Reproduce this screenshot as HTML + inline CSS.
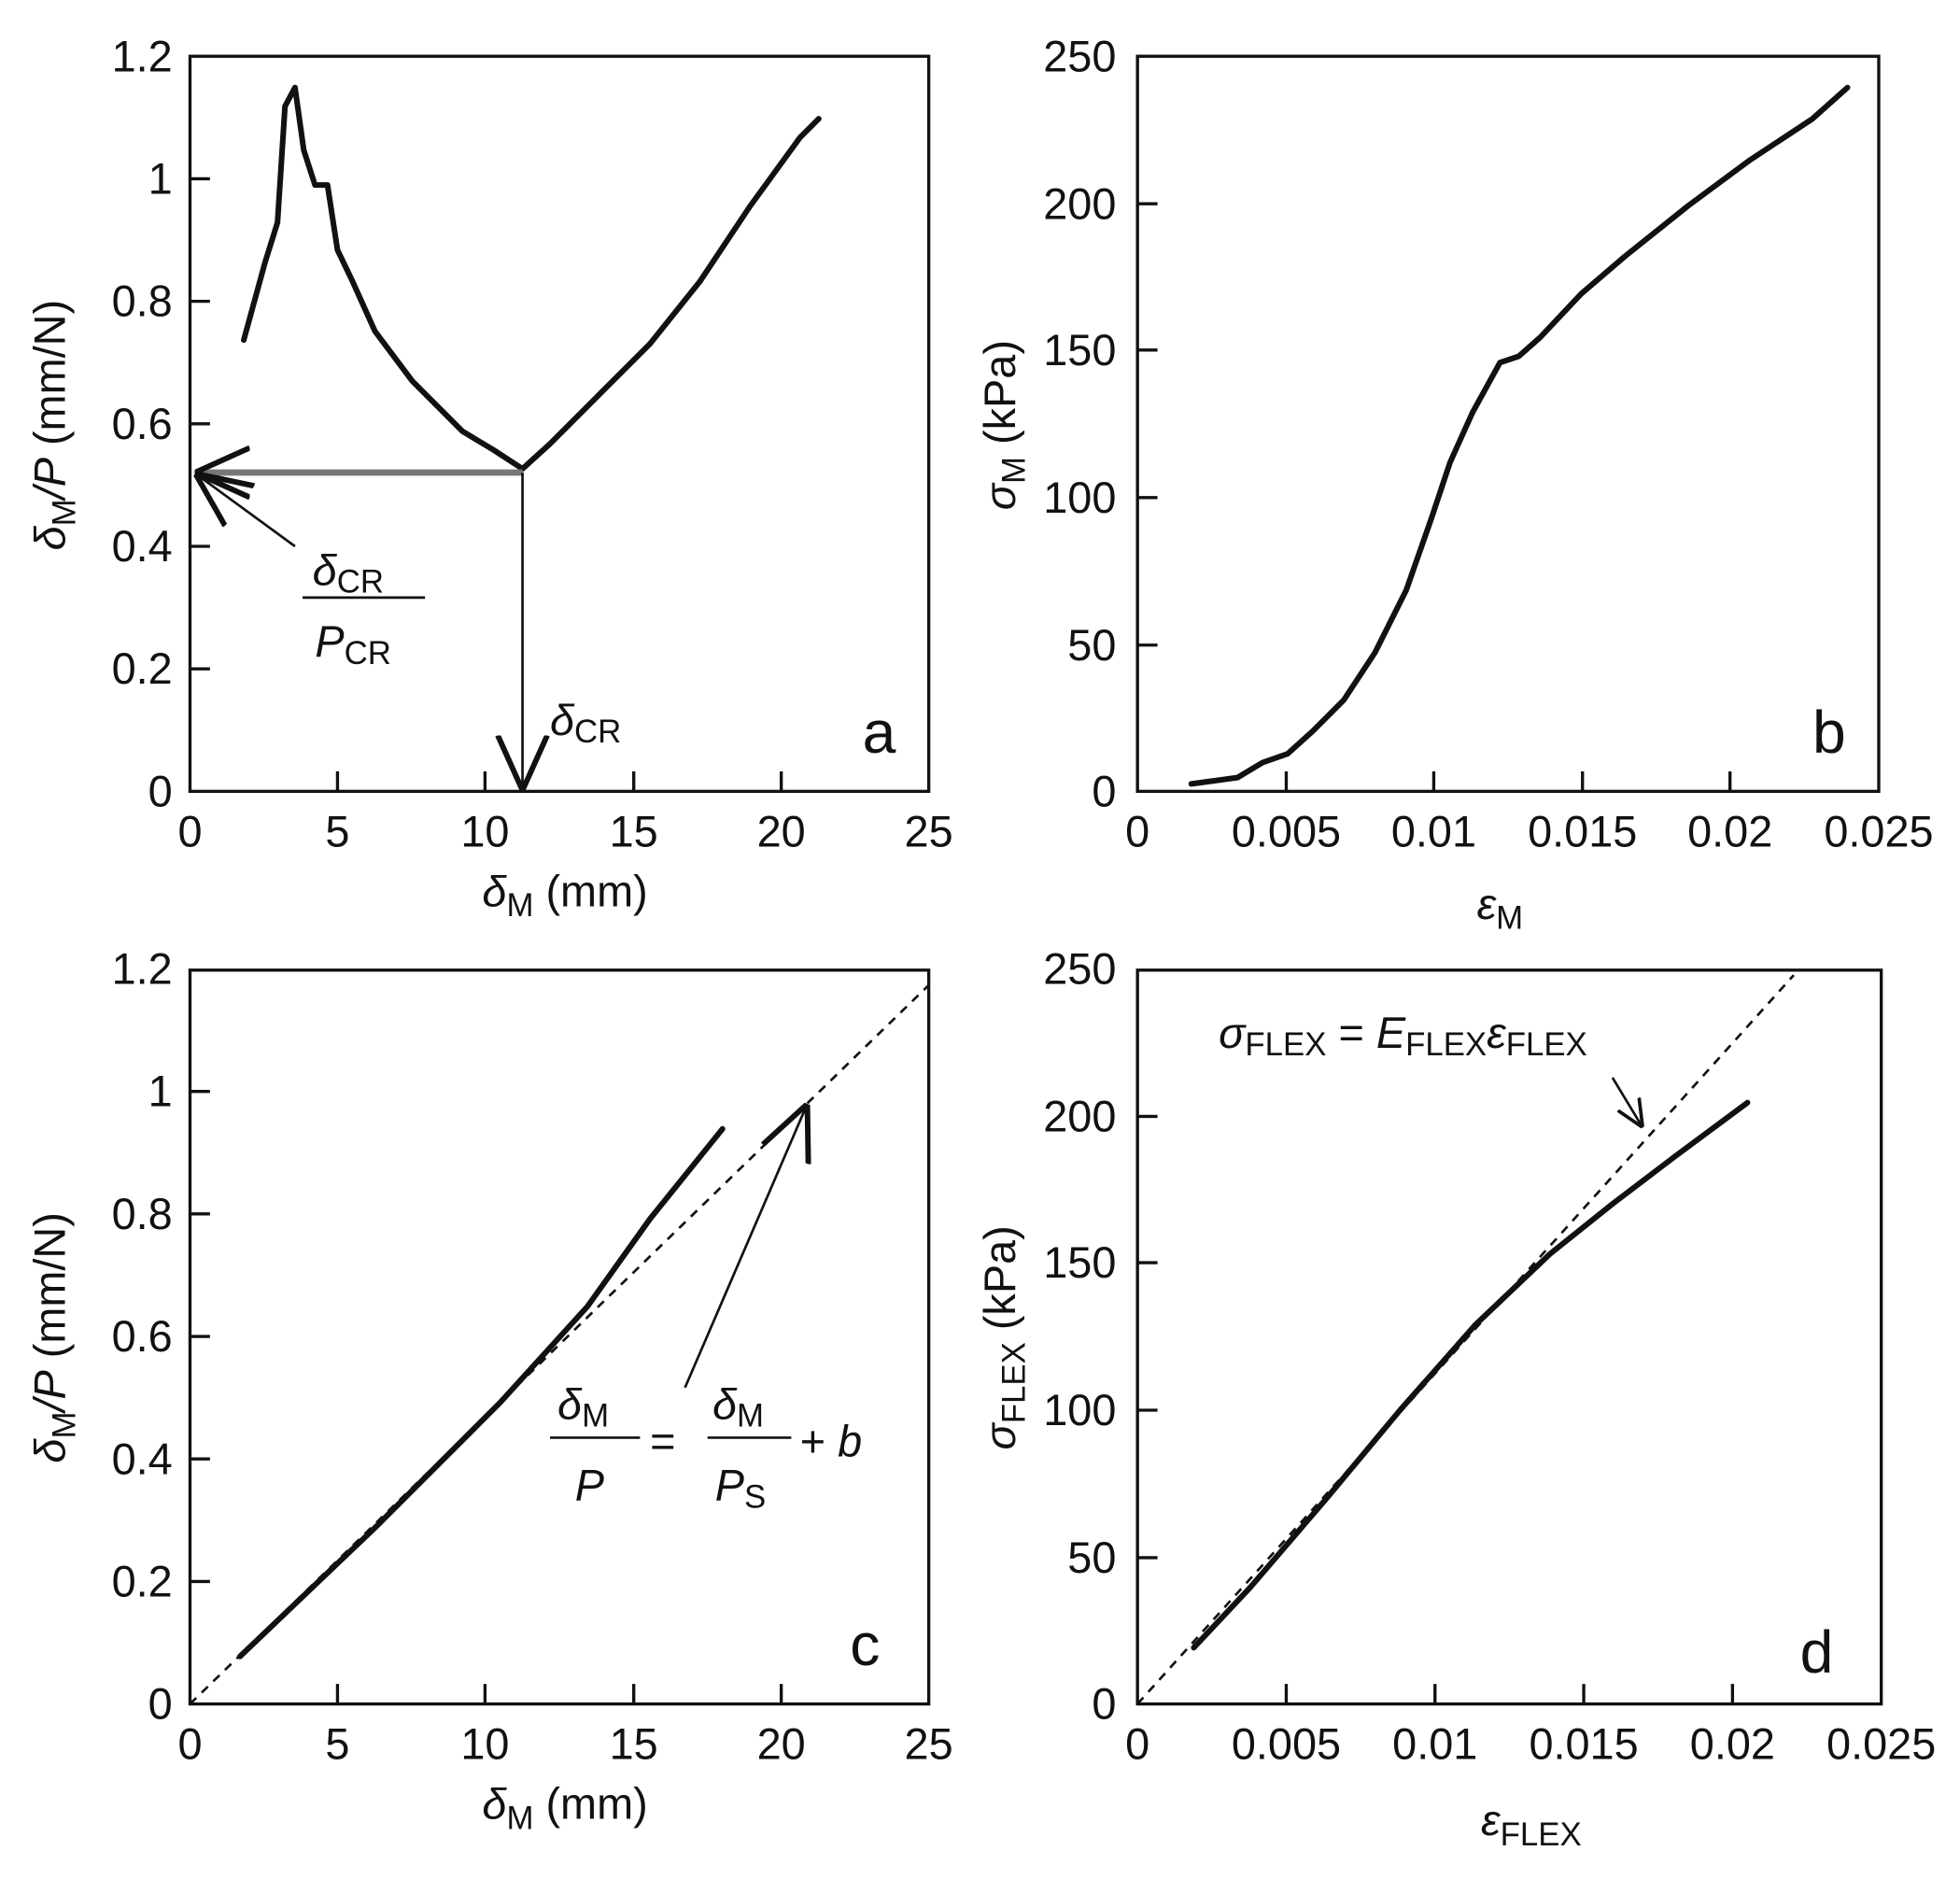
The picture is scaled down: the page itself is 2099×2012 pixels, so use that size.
<!DOCTYPE html>
<html><head><meta charset="utf-8"><style>html,body{margin:0;padding:0;background:#fff}svg{display:block}text{font-family:"Liberation Sans",sans-serif;fill:#111}</style></head>
<body>
<svg width="2099" height="2012" viewBox="0 0 1568 1503" xmlns="http://www.w3.org/2000/svg">
<defs><marker id="ah" viewBox="0 0 20 20" refX="18" refY="10" markerWidth="22" markerHeight="22" markerUnits="userSpaceOnUse" orient="auto"><path d="M0,1 L20,10 L0,19" fill="none" stroke="#111" stroke-width="2.5"/></marker>
<marker id="ahb" viewBox="0 0 20 20" refX="19" refY="10" markerWidth="44" markerHeight="44" markerUnits="userSpaceOnUse" orient="auto"><path d="M0,1 L20,10 L0,19" fill="none" stroke="#111" stroke-width="2"/></marker></defs>
<g fill="none" stroke="#111" stroke-width="2.5">
<rect x="152" y="45" width="591" height="588"/>
<rect x="910" y="45" width="593" height="588"/>
<rect x="152" y="776" width="591" height="587"/>
<rect x="910" y="776" width="595" height="587"/>
<path d="M152,535h16M152,437h16M152,339h16M152,241h16M152,143h16M270,633v-16M388,633v-16M507,633v-16M625,633v-16"/>
<path d="M910,516h16M910,398h16M910,280h16M910,163h16M1029,633v-16M1147,633v-16M1266,633v-16M1384,633v-16"/>
<path d="M152,1265h16M152,1167h16M152,1069h16M152,971h16M152,873h16M270,1363v-16M388,1363v-16M507,1363v-16M625,1363v-16"/>
<path d="M910,1246h16M910,1128h16M910,1010h16M910,893h16M1029,1363v-16M1148,1363v-16M1267,1363v-16M1386,1363v-16"/>
</g>
<g font-size="35" text-anchor="end">
<text x="138" y="645">0</text><text x="138" y="547">0.2</text><text x="138" y="449">0.4</text><text x="138" y="351">0.6</text><text x="138" y="253">0.8</text><text x="138" y="155">1</text><text x="138" y="57">1.2</text>
<text x="893" y="645">0</text><text x="893" y="528">50</text><text x="893" y="410">100</text><text x="893" y="292">150</text><text x="893" y="175">200</text><text x="893" y="57">250</text>
<text x="138" y="1375">0</text><text x="138" y="1277">0.2</text><text x="138" y="1179">0.4</text><text x="138" y="1081">0.6</text><text x="138" y="983">0.8</text><text x="138" y="885">1</text><text x="138" y="787">1.2</text>
<text x="893" y="1375">0</text><text x="893" y="1258">50</text><text x="893" y="1140">100</text><text x="893" y="1022">150</text><text x="893" y="905">200</text><text x="893" y="787">250</text>
</g>
<g font-size="35" text-anchor="middle">
<text x="152" y="677">0</text><text x="270" y="677">5</text><text x="388" y="677">10</text><text x="507" y="677">15</text><text x="625" y="677">20</text><text x="743" y="677">25</text>
<text x="910" y="677">0</text><text x="1029" y="677">0.005</text><text x="1147" y="677">0.01</text><text x="1266" y="677">0.015</text><text x="1384" y="677">0.02</text><text x="1503" y="677">0.025</text>
<text x="152" y="1407">0</text><text x="270" y="1407">5</text><text x="388" y="1407">10</text><text x="507" y="1407">15</text><text x="625" y="1407">20</text><text x="743" y="1407">25</text>
<text x="910" y="1407">0</text><text x="1029" y="1407">0.005</text><text x="1148" y="1407">0.01</text><text x="1267" y="1407">0.015</text><text x="1386" y="1407">0.02</text><text x="1505" y="1407">0.025</text>
<text x="452" y="725"><tspan font-style="italic">δ</tspan><tspan font-size="26" dy="8">M</tspan><tspan dy="-8"> (mm)</tspan></text>
<text x="1200" y="735"><tspan font-style="italic">ε</tspan><tspan font-size="26" dy="8">M</tspan></text>
<text x="452" y="1455"><tspan font-style="italic">δ</tspan><tspan font-size="26" dy="8">M</tspan><tspan dy="-8"> (mm)</tspan></text>
<text x="1225" y="1468"><tspan font-style="italic">ε</tspan><tspan font-size="26" dy="8">FLEX</tspan></text>
</g>
<text transform="translate(52,340) rotate(-90)" font-size="35" text-anchor="middle"><tspan font-style="italic">δ</tspan><tspan font-size="26" dy="8">M</tspan><tspan dy="-8" font-style="italic">/P</tspan><tspan> (mm/N)</tspan></text>
<text transform="translate(52,1070) rotate(-90)" font-size="35" text-anchor="middle"><tspan font-style="italic">δ</tspan><tspan font-size="26" dy="8">M</tspan><tspan dy="-8" font-style="italic">/P</tspan><tspan> (mm/N)</tspan></text>
<text transform="translate(812,340) rotate(-90)" font-size="35" text-anchor="middle"><tspan font-style="italic">σ</tspan><tspan font-size="26" dy="8">M</tspan><tspan dy="-8"> (kPa)</tspan></text>
<text transform="translate(812,1070) rotate(-90)" font-size="35" text-anchor="middle"><tspan font-style="italic">σ</tspan><tspan font-size="26" dy="8">FLEX</tspan><tspan dy="-8"> (kPa)</tspan></text>
<g font-size="48"><text x="690" y="602">a</text><text x="1450" y="602">b</text><text x="680" y="1332">c</text><text x="1440" y="1338">d</text></g>
<g fill="none" stroke="#111" stroke-width="4.5" stroke-linejoin="round" stroke-linecap="round">
<path d="M195,272 L212,210 L222,178 L228,85 L236,70 L243,120 L252,148 L262,148 L270,200 L282,225 L300,265 L330,305 L370,345 L395,360 L418,375 L440,355 L480,315 L520,275 L560,225 L600,165 L640,110 L655,95"/>
<path d="M953,627 L990,622 L1010,610 L1030,603 L1050,585 L1075,560 L1100,522 L1125,472 L1145,415 L1160,370 L1178,330 L1200,290 L1215,285 L1232,270 L1265,235 L1300,205 L1350,165 L1400,128 L1450,95 L1478,70"/>
<path d="M192,1325 L300,1222 L400,1122 L470,1045 L520,975 L578,903"/>
<path d="M955,1318 L1000,1270 L1060,1200 L1120,1128 L1180,1060 L1240,1003 L1290,963 L1340,925 L1398,882"/>
</g>
<path d="M418,378 H158" stroke="#777" stroke-width="5" fill="none" marker-end="url(#ahb)"/>
<g stroke="#111" stroke-width="2" fill="none">
<path d="M418,378 V630" marker-end="url(#ahb)"/>
<path d="M236,437 L158,380" marker-end="url(#ahb)"/>
<path d="M242,478 H340"/>
<path d="M440,1150 H512 M566,1150 H633"/>
<path d="M548,1110 L645,885" marker-end="url(#ahb)"/>
<path d="M1290,862 L1313,900" marker-end="url(#ah)"/>
<path d="M152,1363 L743,788 M910,1363 L1435,780" stroke-dasharray="7,6"/>
</g>
<g font-size="35">
<text x="250" y="468"><tspan font-style="italic">δ</tspan><tspan font-size="26" dy="6">CR</tspan></text>
<text x="252" y="525"><tspan font-style="italic">P</tspan><tspan font-size="26" dy="6">CR</tspan></text>
<text x="440" y="588"><tspan font-style="italic">δ</tspan><tspan font-size="26" dy="6">CR</tspan></text>
<text x="446" y="1135"><tspan font-style="italic">δ</tspan><tspan font-size="26" dy="6">M</tspan></text>
<text x="460" y="1200" font-style="italic">P</text>
<text x="520" y="1165">=</text>
<text x="570" y="1135"><tspan font-style="italic">δ</tspan><tspan font-size="26" dy="6">M</tspan></text>
<text x="572" y="1200"><tspan font-style="italic">P</tspan><tspan font-size="26" dy="6">S</tspan></text>
<text x="640" y="1165">+ <tspan font-style="italic">b</tspan></text>
<text x="975" y="838"><tspan font-style="italic">σ</tspan><tspan font-size="26" dy="6">FLEX</tspan><tspan dy="-6"> = </tspan><tspan font-style="italic">E</tspan><tspan font-size="26" dy="6">FLEX</tspan><tspan dy="-6" font-style="italic">ε</tspan><tspan font-size="26" dy="6">FLEX</tspan></text>
</g>
</svg>
</body></html>
